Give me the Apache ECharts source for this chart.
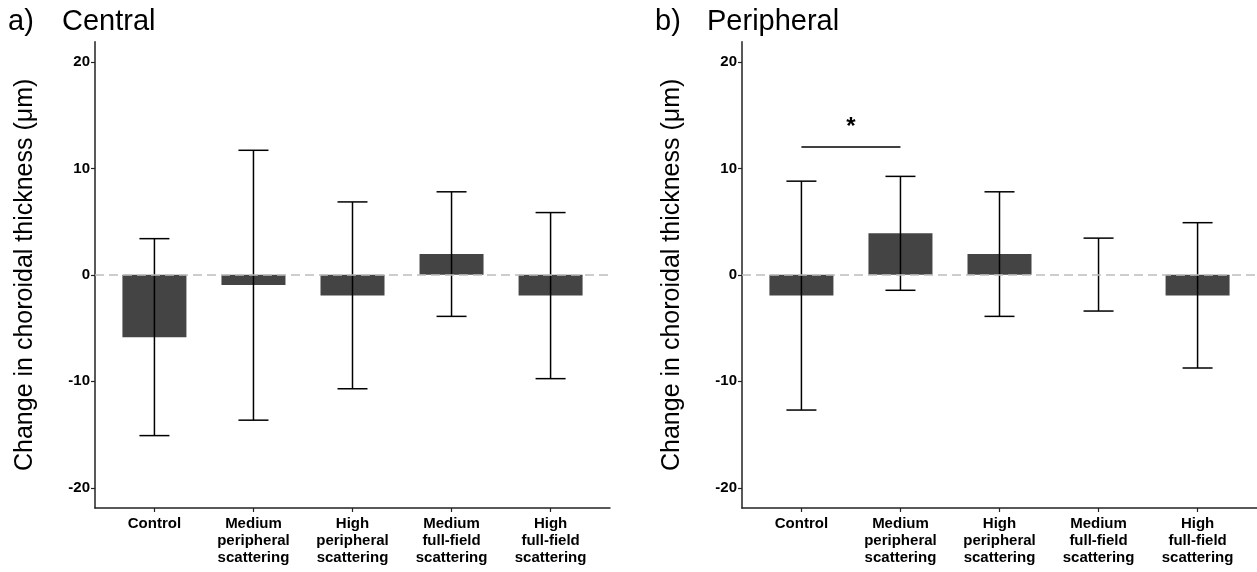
<!DOCTYPE html>
<html>
<head>
<meta charset="utf-8">
<script src="https://cdn.jsdelivr.net/npm/echarts@6/dist/echarts.min.js"></script>
<style>
  html, body { margin: 0; padding: 0; background: #ffffff; }
  #chart { width: 1257px; height: 572px; }
</style>
</head>
<body>
<div id="chart"></div>
<script>
// Groups along the x axis
const categories = [
  'Control',
  'Medium\nperipheral\nscattering',
  'High\nperipheral\nscattering',
  'Medium\nfull-field\nscattering',
  'High\nfull-field\nscattering'
];

// Central choroid: mean change and error bar limits (µm)
const centralMean  = [-5.85, -0.95, -1.95, 1.95, -1.95];
const centralLower = [-15.1, -13.65, -10.7, -3.9, -9.75];
const centralUpper = [3.4, 11.7, 6.85, 7.8, 5.85];

// Peripheral choroid: mean change and error bar limits (µm)
const peripheralMean  = [-1.95, 3.9, 1.95, 0, -1.95];
const peripheralLower = [-12.7, -1.45, -3.9, -3.4, -8.75];
const peripheralUpper = [8.8, 9.25, 7.8, 3.45, 4.9];

// Significance bracket on the peripheral panel (groups are 1-based)
const sigFrom = 1;
const sigTo = 2;
const sigLevel = 12;
const sigLabel = '*';

const yTicks = [-20, -10, 0, 10, 20];
const xTicks = [1, 2, 3, 4, 5];
const yName = 'Change in choroidal thickness (μm)';

const FONT = '"Liberation Sans", Arial, Helvetica, sans-serif';

const chart = echarts.init(document.getElementById('chart'), null, { renderer: 'canvas' });

function xAxisFor(gridIndex) {
  return {
    type: 'value', gridIndex: gridIndex, min: 0.4, max: 5.6,
    splitLine: { show: false },
    axisLine: { show: true, onZero: false, lineStyle: { color: '#222', width: 1.5 } },
    axisTick: { show: true, length: 4, customValues: xTicks, lineStyle: { color: '#222', width: 1.2 } },
    axisLabel: {
      customValues: xTicks, margin: 7,
      formatter: v => categories[Math.round(v) - 1] || '',
      fontFamily: FONT, fontWeight: 'bold', fontSize: 15, lineHeight: 17, color: '#000',
      align: 'center'
    }
  };
}

function yAxisFor(gridIndex) {
  return {
    type: 'value', gridIndex: gridIndex, min: -21.9, max: 21.9,
    splitLine: { show: false },
    axisLine: { show: true, lineStyle: { color: '#222', width: 1.5 } },
    axisTick: { show: true, length: 4, customValues: yTicks, lineStyle: { color: '#222', width: 1.2 } },
    axisLabel: {
      customValues: yTicks, margin: 5,
      fontFamily: FONT, fontWeight: 'bold', fontSize: 15, color: '#000'
    },
    name: yName, nameLocation: 'middle', nameRotate: 90, nameGap: 57,
    nameTextStyle: { fontFamily: FONT, fontSize: 25, color: '#000' }
  };
}

function barSeries(idx, means) {
  return {
    type: 'bar', xAxisIndex: idx, yAxisIndex: idx,
    data: means.map((m, i) => [i + 1, m]),
    barWidth: 64,
    itemStyle: { color: '#444444' },
    silent: true, z: 2
  };
}

function errorSeries(idx, lower, upper) {
  return {
    type: 'custom', xAxisIndex: idx, yAxisIndex: idx,
    data: lower.map((lo, i) => [i + 1, lo, upper[i]]),
    encode: { x: 0, y: [1, 2] },
    renderItem: function (params, api) {
      const x = api.value(0);
      const lo = api.coord([x, api.value(1)]);
      const hi = api.coord([x, api.value(2)]);
      const half = 15;
      const style = { stroke: '#000', lineWidth: 1.5 };
      return {
        type: 'group',
        children: [
          { type: 'line', shape: { x1: lo[0], y1: lo[1], x2: hi[0], y2: hi[1] }, style: style },
          { type: 'line', shape: { x1: lo[0] - half, y1: lo[1], x2: lo[0] + half, y2: lo[1] }, style: style },
          { type: 'line', shape: { x1: hi[0] - half, y1: hi[1], x2: hi[0] + half, y2: hi[1] }, style: style }
        ]
      };
    },
    markLine: {
      silent: true, symbol: 'none', label: { show: false },
      lineStyle: { color: '#bdbdbd', type: [9, 5], width: 1.5 },
      data: [{ yAxis: 0 }]
    },
    silent: true, z: 4
  };
}

const sigSeries = {
  type: 'custom', xAxisIndex: 1, yAxisIndex: 1,
  data: [[sigFrom, sigTo, sigLevel]],
  renderItem: function (params, api) {
    const a = api.coord([api.value(0), api.value(2)]);
    const b = api.coord([api.value(1), api.value(2)]);
    return {
      type: 'group',
      children: [
        { type: 'line', shape: { x1: a[0], y1: a[1], x2: b[0], y2: b[1] }, style: { stroke: '#000', lineWidth: 1.5 } },
        { type: 'text', x: (a[0] + b[0]) / 2, y: a[1] - 8,
          style: { text: sigLabel, font: 'bold 24px ' + FONT, fill: '#000', align: 'center', verticalAlign: 'bottom' } }
      ]
    };
  },
  silent: true, z: 5
};

const titleStyle = { fontFamily: FONT, fontSize: 29, fontWeight: 'normal', color: '#000' };

chart.setOption({
  animation: false,
  backgroundColor: '#ffffff',
  title: [
    { text: 'a)', left: 8, top: 7, padding: 0, textStyle: titleStyle },
    { text: 'Central', left: 62, top: 7, padding: 0, textStyle: titleStyle },
    { text: 'b)', left: 655, top: 7, padding: 0, textStyle: titleStyle },
    { text: 'Peripheral', left: 707, top: 7, padding: 0, textStyle: titleStyle }
  ],
  grid: [
    { left: 95, top: 41.7, width: 515, height: 466.3 },
    { left: 742, top: 41.7, width: 515, height: 466.3 }
  ],
  xAxis: [xAxisFor(0), xAxisFor(1)],
  yAxis: [yAxisFor(0), yAxisFor(1)],
  series: [
    barSeries(0, centralMean),
    errorSeries(0, centralLower, centralUpper),
    barSeries(1, peripheralMean),
    errorSeries(1, peripheralLower, peripheralUpper),
    sigSeries
  ]
});
</script>
</body>
</html>
